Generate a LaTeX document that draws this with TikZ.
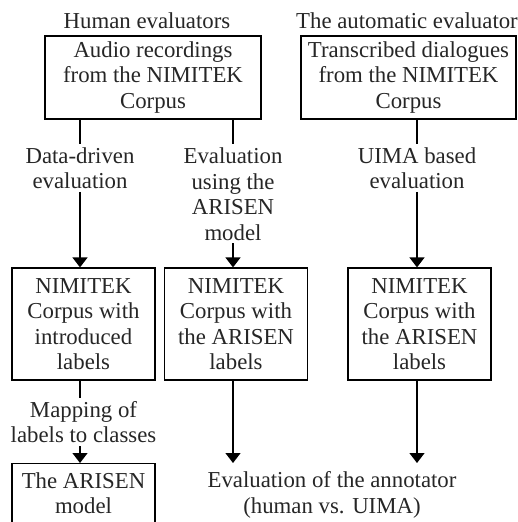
\documentclass[tikz,border=0pt]{standalone}
\usepackage{fontspec}
\setmainfont{Liberation Serif}
\usetikzlibrary{arrows.meta}
\begin{document}
\begin{tikzpicture}[x=1pt,y=-1pt,
  every node/.style={font=\fontsize{22.8}{25.5}\selectfont, align=center, text=black!85},
  topbox/.style={draw, line width=1.8pt, inner sep=0pt, minimum width=#1, minimum height=83pt},
  midbox/.style={draw, line width=1.2pt, inner sep=0pt, minimum width=143pt, minimum height=112pt},
  lbl/.style={inner xsep=0pt, inner ysep=3pt},
  link/.style={line width=1.3pt},
  arr/.style={line width=1.3pt, -{Triangle[width=15pt,length=10pt]}}]
\useasboundingbox (0,0) rectangle (517,522);
\clip (0,0) rectangle (517,522);

% column headings
\node (hum) at (147,21) {Human evaluators};
\node (aut) at (407,21) {The automatic evaluator};

% source corpora
\node[topbox=216pt] (audio) at (153,77.5) {Audio recordings\\from the NIMITEK\\Corpus};
\node[topbox=215pt] (trans) at (408.5,77.5) {Transcribed dialogues\\from the NIMITEK\\Corpus};

% evaluation methods
\node[lbl] (dd) at (80,168) {Data-driven\\evaluation};
\node[lbl] (ev) at (233,194) {Evaluation\\using the\\ARISEN\\model};
\node[lbl] (ui) at (417,168) {UIMA based\\evaluation};

% annotated corpora
\node[midbox] (b1) at (83.5,324) {NIMITEK\\Corpus with\\introduced\\labels};
\node[midbox] (b2) at (236,324) {NIMITEK\\Corpus with\\the ARISEN\\labels};
\node[midbox] (b3) at (419.5,324) {NIMITEK\\Corpus with\\the ARISEN\\labels};

% mapping and model (the box runs on below the page edge)
\node[lbl] (map) at (83.5,422) {Mapping of\\labels to classes};
\node[draw, line width=1.2pt, inner xsep=0pt, inner ysep=9pt, minimum width=143pt,
      anchor=north, text depth=52pt] (model) at (83.5,463) {The ARISEN\\model};

% final comparison
\node (fin) at (332,495) {Evaluation of the annotator\\(human vs. UIMA)};

% connectors
\draw[link] (audio.south -| dd) -- (dd.north);
\draw[arr]  (dd.south) -- (dd |- b1.north);
\draw[link] (audio.south -| ev) -- (ev |- dd.north);
\draw[arr]  (ev.south) -- (ev |- b2.north);
\draw[link] (trans.south -| ui) -- (ui.north);
\draw[arr]  (ui.south) -- (ui |- b3.north);
\draw[link] (b1.south -| dd) -- (dd |- map.north);
\draw[arr]  (dd |- map.south) -- (dd |- model.north);
\draw[arr]  (b2.south -| ev) -- (ev |- model.north);
\draw[arr]  (b3.south -| ui) -- (ui |- model.north);
\end{tikzpicture}
\end{document}
